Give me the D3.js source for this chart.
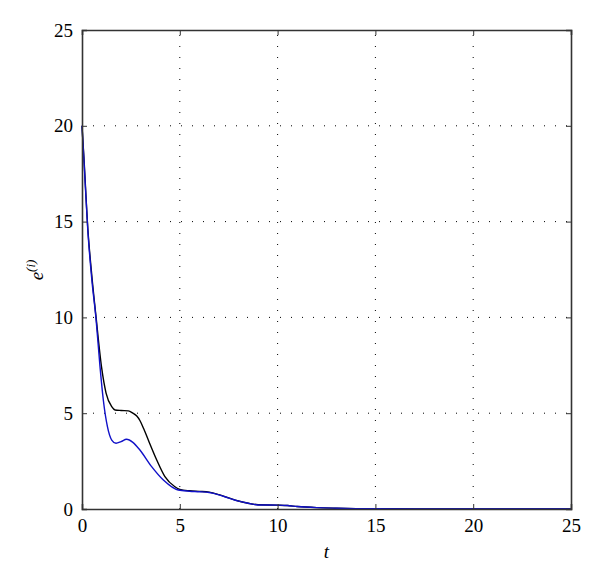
<!DOCTYPE html>
<html><head><meta charset="utf-8">
<script src="https://cdn.jsdelivr.net/npm/d3@7"></script>
<style>body{margin:0;background:#fff}</style>
</head><body>
<svg id="c" width="600" height="583"></svg>
<script>
const xTicks = [0,5,10,15,20,25];
const yTicks = [0,5,10,15,20,25];
const blackT = [0,0.1,0.3,0.5,0.72,1.0,1.23,1.52,1.69,2.0,2.37,2.6,2.8,2.96,3.15,3.39,3.82,4.24,4.75,5.0,5.5,6.0,6.5,7.0,7.5,8.0,8.5,9.0,10.0,10.5,11.0,12.0,13.0,14.0,15.0,17.0,25.0];
const blackV = [20,18.3,14.6,12.2,10.0,7.4,6.05,5.34,5.17,5.14,5.12,5.0,4.85,4.62,4.2,3.6,2.56,1.69,1.16,1.02,0.95,0.92,0.88,0.75,0.58,0.42,0.3,0.22,0.2,0.18,0.13,0.07,0.04,0.02,0.01,0,0];
const blueT = [0,0.1,0.3,0.5,0.72,0.92,1.09,1.3,1.52,1.74,2.0,2.28,2.6,2.96,3.56,4.16,4.92,5.5,6.0,6.5,7.0,7.5,8.0,8.5,9.0,10.0,10.5,11.0,12.0,13.0,14.0,15.0,17.0,25.0];
const blueV = [20,18.2,14.5,12.0,9.9,7.43,5.69,4.3,3.6,3.43,3.52,3.64,3.48,3.08,2.21,1.51,0.99,0.93,0.9,0.86,0.74,0.57,0.41,0.3,0.21,0.2,0.18,0.13,0.07,0.04,0.02,0.01,0,0];

const svg = d3.select("#c");
const L=82,R=571,T=30,B=509;
const x = d3.scaleLinear().domain([0,25]).range([L,R]);
const y = d3.scaleLinear().domain([0,25]).range([B,T]);
const font = "'Liberation Serif', 'Times New Roman', serif";

// grid
const g = svg.append("g");
xTicks.slice(1,-1).forEach(v=>{
  g.append("line").attr("x1",x(v)).attr("x2",x(v)).attr("y1",B).attr("y2",T)
   .attr("stroke","#000").attr("stroke-width",1).attr("stroke-dasharray","1,10");
});
yTicks.slice(1,-1).forEach(v=>{
  g.append("line").attr("x1",L).attr("x2",R).attr("y1",y(v)).attr("y2",y(v))
   .attr("stroke","#000").attr("stroke-width",1).attr("stroke-dasharray","1,10");
});

// lines
const line = d3.line().x(d=>x(d[0])).y(d=>y(d[1])).curve(d3.curveMonotoneX);
svg.append("path").datum(blackT.map((t,i)=>[t,blackV[i]])).attr("d",line)
  .attr("fill","none").attr("stroke","#000").attr("stroke-width",1.4);
svg.append("path").datum(blueT.map((t,i)=>[t,blueV[i]])).attr("d",line)
  .attr("fill","none").attr("stroke","#1010c8").attr("stroke-width",1.4);

// axes with inward ticks
const ax = svg.append("g").attr("transform",`translate(0,${B})`)
  .call(d3.axisBottom(x).tickValues(xTicks).tickSize(-5).tickPadding(10).tickFormat(d3.format("d")));
const ay = svg.append("g").attr("transform",`translate(${L},0)`)
  .call(d3.axisLeft(y).tickValues(yTicks).tickSize(-5).tickPadding(9).tickFormat(d3.format("d")));
const axT = svg.append("g").attr("transform",`translate(0,${T})`)
  .call(d3.axisTop(x).tickValues(xTicks).tickSize(-5).tickFormat(""));
const ayR = svg.append("g").attr("transform",`translate(${R},0)`)
  .call(d3.axisRight(y).tickValues(yTicks).tickSize(-5).tickFormat(""));
[ax,ay,axT,ayR].forEach(a=>{
  a.selectAll("path").attr("stroke","#333").attr("stroke-width",1.6);
  a.selectAll("line").attr("stroke","#333");
  a.selectAll("text").attr("font-family",font).attr("font-size",19).attr("fill","#000");
});

svg.append("text").attr("x",(L+R)/2).attr("y",558).attr("text-anchor","middle")
  .attr("font-family",font).attr("font-style","italic").attr("font-size",19).text("t");
const yl = svg.append("text").attr("transform","translate(43,270) rotate(-90)")
  .attr("text-anchor","middle").attr("font-family",font).attr("font-style","italic").attr("font-size",19);
yl.append("tspan").text("e");
yl.append("tspan").attr("dy",-8).attr("font-size",13).text("(i)");
</script>
</body></html>
